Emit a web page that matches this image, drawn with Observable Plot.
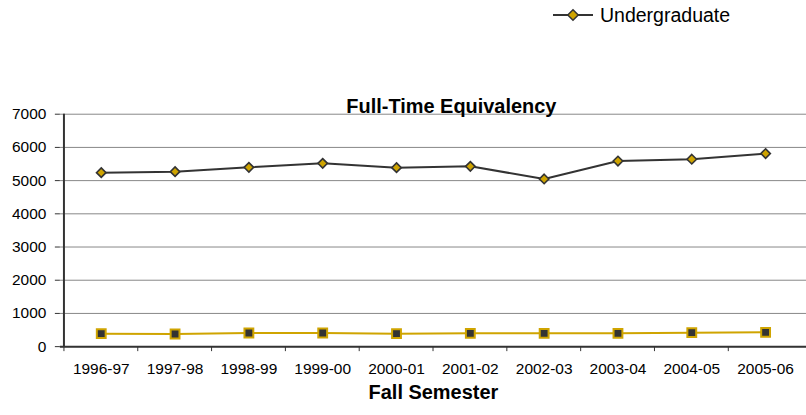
<!DOCTYPE html>
<html><head><meta charset="utf-8">
<script src="https://cdn.jsdelivr.net/npm/d3@7"></script>
<script src="https://cdn.jsdelivr.net/npm/@observablehq/plot@0.6"></script>
<style>
body{margin:0;background:#fff;font-family:"Liberation Sans",Arial,sans-serif;overflow:hidden;}
#wrap{position:relative;width:806px;height:415px;overflow:hidden;}
#legend{position:absolute;left:552px;top:4px;height:22px;font-size:19.5px;display:flex;align-items:center;color:#000;white-space:nowrap;}
</style></head><body><div id="wrap"><div id="legend"></div></div>
<script>
const semesters = ["1996-97","1997-98","1998-99","1999-00","2000-01","2001-02","2002-03","2003-04","2004-05","2005-06"];
const undergraduate = [5240,5270,5400,5520,5390,5430,5050,5590,5645,5815];
const graduate = [390,380,410,410,390,400,400,400,420,430];
const yTicks = [0,1000,2000,3000,4000,5000,6000,7000];
const seriesNames = ["Undergraduate","Graduate"];

const gold = "#CFA400", dark = "#333333";
const W = 808, H = 415, mL = 60, mR = 0, mT = 114, mB = 68;
const bw = (W - mL - mR) / semesters.length;

const ug = semesters.map((s,i)=>({semester:s, value:undergraduate[i], series:seriesNames[0]}));
const gr = semesters.map((s,i)=>({semester:s, value:graduate[i], series:seriesNames[1]}));

const chart = Plot.plot({
  width: W, height: H,
  marginLeft: mL, marginRight: mR, marginTop: mT, marginBottom: mB,
  style: {fontFamily: '"Liberation Sans", Arial, sans-serif', fontSize: "15.5px", color: "#000", background: "#fff", overflow: "visible"},
  x: {type: "band", domain: semesters, padding: 0, label: null},
  y: {domain: [0, 7000], label: null},
  marks: [
    Plot.gridY(yTicks, {stroke: "#888", strokeOpacity: 1, strokeWidth: 1}),
    Plot.axisY(yTicks, {tickSize: 5, tickPadding: 9, fontSize: 15.5, tickFormat: d3.format("d"), stroke: dark, label: null}),
    Plot.ruleX([semesters[0]], {dx: -bw/2, stroke: dark, strokeWidth: 2}),
    Plot.ruleY([0], {stroke: dark, strokeWidth: 2}),
    Plot.axisX({tickSize: 5, tickFormat: () => "", dx: -bw/2, stroke: dark, label: null}),
    Plot.axisX({tickSize: 0, tickPadding: 16.5, fontSize: 15.5, label: null}),
    Plot.line(gr, {x: "semester", y: "value", stroke: gold, strokeWidth: 2}),
    Plot.dot(gr, {x: "semester", y: "value", symbol: "square", r: 5, fill: dark, stroke: gold, strokeWidth: 2}),
    Plot.line(ug, {x: "semester", y: "value", stroke: dark, strokeWidth: 2}),
    Plot.dot(ug, {x: "semester", y: "value", symbol: "diamond2", r: 4.3, fill: gold, stroke: dark, strokeWidth: 1.6}),
    Plot.text(["Full-Time Equivalency"], {frameAnchor: "top", dy: -15, dx: 18, fontWeight: "bold", fontSize: 20}),
    Plot.text(["Fall Semester"], {frameAnchor: "bottom", dy: 52, fontWeight: "bold", fontSize: 20})
  ]
});
document.getElementById("wrap").prepend(chart);

// legend (only the first series is visible in the reference)
const lg = document.getElementById("legend");
lg.innerHTML = `<svg width="42" height="14" style="margin-right:6px"><line x1="1" y1="7" x2="41" y2="7" stroke="${dark}" stroke-width="2"/><path d="M21,1.8L26.2,7L21,12.2L15.8,7Z" fill="${gold}" stroke="${dark}" stroke-width="1.5"/></svg><span>${seriesNames[0]}</span>`;
</script>
</body></html>
